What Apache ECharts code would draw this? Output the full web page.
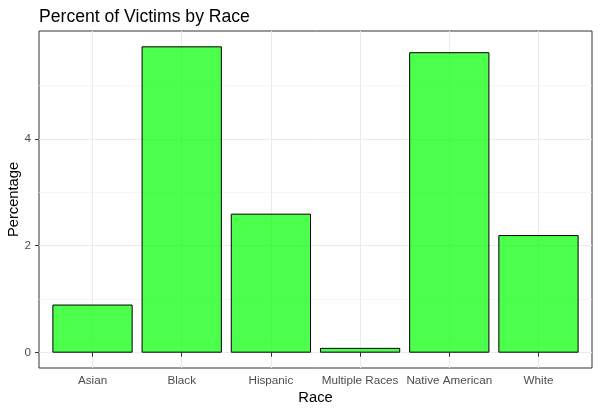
<!DOCTYPE html>
<html>
<head>
<meta charset="utf-8">
<script src="https://cdn.jsdelivr.net/npm/echarts@6/dist/echarts.min.js"></script>
<style>html,body{margin:0;padding:0;background:#fff}#c{width:600px;height:413px}</style>
</head>
<body>
<div id="c"></div>
<script>
const categories = ["Asian", "Black", "Hispanic", "Multiple Races", "Native American", "White"];
const percentages = [0.90, 5.73, 2.60, 0.09, 5.62, 2.20];
const yTicks = [0, 2, 4];
const yMinorTicks = [1, 3, 5];

const positions = categories.map((c, i) => i + 1);
const maxV = Math.max(...percentages);
const yMin = -0.05 * maxV, yMax = 1.05 * maxV;
const font = "Liberation Sans, Arial, sans-serif";
const gridLeft = 39, gridRight = 8;
const unitPx = (600 - gridLeft - gridRight) / (categories.length + 0.2);

const chart = echarts.init(document.getElementById('c'), null, {renderer: 'canvas'});
chart.setOption({
  animation: false,
  backgroundColor: '#ffffff',
  title: {
    text: 'Percent of Victims by Race',
    left: 34, top: 3,
    textStyle: {fontFamily: font, fontSize: 17.6, fontWeight: 'normal', color: '#000'}
  },
  grid: {left: gridLeft, right: gridRight, top: 31, bottom: 45, containLabel: false, outerBoundsMode: 'none',
    show: true, borderColor: '#333333', borderWidth: 1, backgroundColor: 'transparent'},
  xAxis: {
    type: 'value', min: 0.4, max: categories.length + 0.6,
    name: 'Race', nameLocation: 'middle', nameGap: 22, nameMoveOverlap: false,
    nameTextStyle: {fontFamily: font, fontSize: 14.7, color: '#000'},
    axisLine: {show: false},
    axisTick: {show: true, inside: false, customValues: positions, length: 4, lineStyle: {color: '#333333'}},
    axisLabel: {customValues: positions, margin: 7, fontFamily: font, fontSize: 11.7, color: '#4d4d4d',
      formatter: v => categories[Math.round(v) - 1] || ''},
    splitLine: {show: true, lineStyle: {color: '#ebebeb', width: 1}}
  },
  yAxis: [{
    type: 'value', min: yMin, max: yMax,
    name: 'Percentage', nameLocation: 'middle', nameGap: 18, nameMoveOverlap: false,
    nameTextStyle: {fontFamily: font, fontSize: 14.7, color: '#000'},
    axisLine: {show: false},
    axisTick: {show: true, inside: false, customValues: yTicks, length: 4, lineStyle: {color: '#333333'}},
    axisLabel: {customValues: yTicks, margin: 8, fontFamily: font, fontSize: 11.7, color: '#4d4d4d'},
    splitLine: {show: true, lineStyle: {color: '#ebebeb', width: 1}}
  }, {
    type: 'value', min: yMin, max: yMax, position: 'left',
    axisLine: {show: false},
    axisTick: {show: false, customValues: yMinorTicks},
    axisLabel: {show: false, customValues: yMinorTicks},
    splitLine: {show: true, lineStyle: {color: '#f0f0f0', width: 0.6}}
  }],
  series: [{
    type: 'bar',
    data: percentages.map((v, i) => [positions[i], v]),
    barWidth: unitPx * 0.9,
    itemStyle: {color: 'rgba(0,255,0,0.7)', borderColor: '#000', borderWidth: 1},
    silent: true
  }]
});
</script>
</body>
</html>
